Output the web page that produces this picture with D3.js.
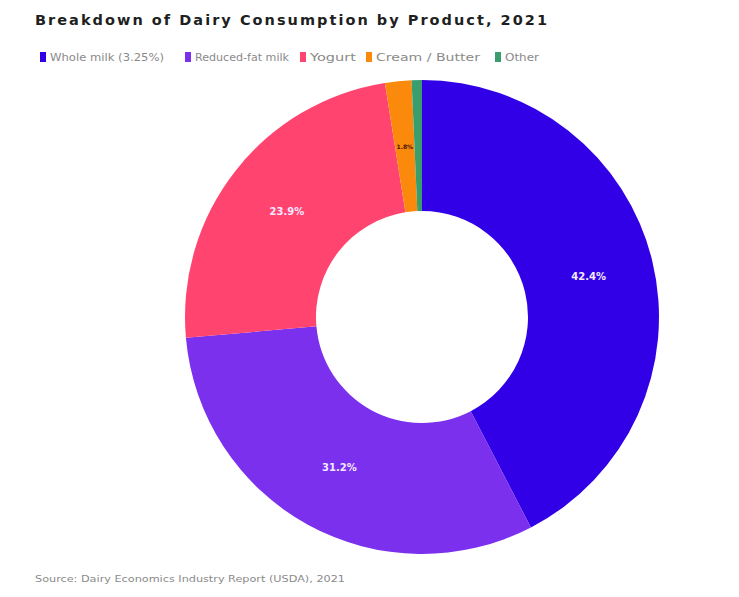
<!DOCTYPE html>
<html>
<head>
<meta charset="utf-8">
<script src="https://cdn.jsdelivr.net/npm/d3@7"></script>
<style>
  html, body { margin: 0; padding: 0; background: #ffffff; }
  svg { display: block; }
</style>
</head>
<body>
<svg id="chart" width="739" height="597"></svg>
<script>
// Share of dairy consumption by product type, 2021 (percent)
const categories = ["Whole milk (3.25%)", "Reduced-fat milk", "Yogurt", "Cream / Butter", "Other"];
const shares = [42.4, 31.2, 23.9, 1.8, 0.7];
const colors = ["#3200e6", "#7b30ee", "#ff4470", "#fb8a0c", "#3a9d6e"];
const labels = ["42.4%", "31.2%", "23.9%", "1.8%", ""];

const svg = d3.select("#chart");
const cx = 422, cy = 317, outerR = 237, innerR = 106;

svg.append("text")
  .attr("x", 35).attr("y", 25)
  .attr("font-family", "DejaVu Sans, sans-serif")
  .attr("font-size", 14.5).attr("font-weight", "bold")
  .attr("fill", "#1f1f1f")
  .attr("textLength", 512).attr("lengthAdjust", "spacing")
  .text("Breakdown of Dairy Consumption by Product, 2021");

// Legend
const legendX = [40, 185, 300, 366, 495];
const legendW = [114, 94, 46, 104, 34];
const legend = svg.append("g");
categories.forEach((c, i) => {
  legend.append("rect")
    .attr("x", legendX[i]).attr("y", 52)
    .attr("width", 6).attr("height", 10)
    .attr("fill", colors[i]);
  legend.append("text")
    .attr("x", legendX[i] + 10).attr("y", 61)
    .attr("font-family", "DejaVu Sans, sans-serif")
    .attr("font-size", 10)
    .attr("fill", "#8a8a8a")
    .attr("textLength", legendW[i]).attr("lengthAdjust", "spacingAndGlyphs")
    .text(c);
});

// Donut
const pie = d3.pie().sort(null).value(d => d);
const arcs = pie(shares);
const arc = d3.arc().innerRadius(innerR).outerRadius(outerR);

const g = svg.append("g").attr("transform", `translate(${cx},${cy})`);
g.selectAll("path")
  .data(arcs)
  .join("path")
  .attr("d", arc)
  .attr("fill", (d, i) => colors[i]);

g.selectAll("text.lbl")
  .data(arcs)
  .join("text")
  .attr("class", "lbl")
  .attr("transform", d => `translate(${arc.centroid(d)})`)
  .attr("text-anchor", "middle")
  .attr("dominant-baseline", "central")
  .attr("font-family", "DejaVu Sans, sans-serif")
  .attr("font-size", (d, i) => i === 3 ? 6 : 10)
  .attr("font-weight", "bold")
  .attr("fill", (d, i) => i === 3 ? "#4a1400" : "#f4e8ff")
  .text((d, i) => labels[i]);

svg.append("text")
  .attr("x", 35).attr("y", 582)
  .attr("font-family", "DejaVu Sans, sans-serif")
  .attr("font-size", 9)
  .attr("fill", "#8a8a8a")
  .attr("textLength", 310).attr("lengthAdjust", "spacingAndGlyphs")
  .text("Source: Dairy Economics Industry Report (USDA), 2021");
</script>
</body>
</html>
